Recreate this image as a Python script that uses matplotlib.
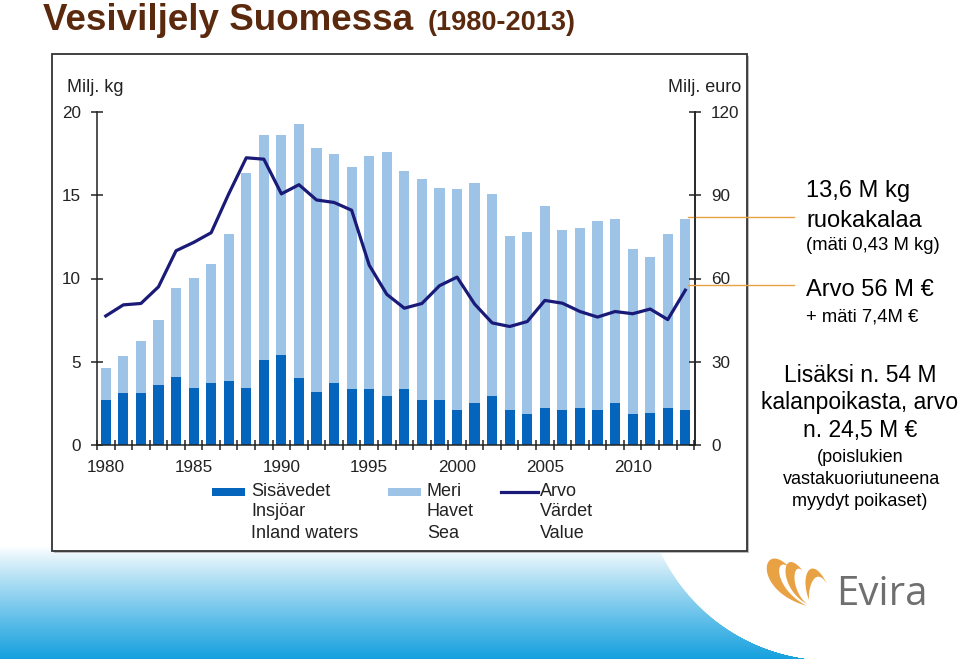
import numpy as np
import matplotlib
matplotlib.use("Agg")
import matplotlib.pyplot as plt
from matplotlib.patches import Rectangle, Polygon
from matplotlib.lines import Line2D

plt.rcParams['font.family'] = ['Liberation Sans', 'DejaVu Sans']

# data
years = list(range(1980, 2014))
sisavedet = [2.7, 3.1, 3.1, 3.6, 4.1, 3.45, 3.75, 3.85, 3.45, 5.1, 5.4, 4.0, 3.2, 3.75, 3.35, 3.35, 2.95,
             3.35, 2.7, 2.7, 2.1, 2.5, 2.95, 2.1, 1.85, 2.2, 2.1, 2.2, 2.1, 2.5, 1.85, 1.95, 2.2, 2.1]
meri = [1.9, 2.25, 3.15, 3.9, 5.35, 6.6, 7.1, 8.85, 12.9, 13.5, 13.2, 15.25, 14.65, 13.75, 13.35, 14.0, 14.65,
        13.1, 13.3, 12.75, 13.25, 13.25, 12.15, 10.45, 10.95, 12.15, 10.8, 10.85, 11.35, 11.1, 9.95, 9.35, 10.45, 11.5]
arvo = [46.5, 50.5, 51.0, 57.0, 70.0, 73.0, 76.5, 90.5, 103.5, 103.0, 90.5, 93.8, 88.3, 87.4, 84.6, 64.8, 54.3,
        49.3, 51.0, 57.4, 60.5, 50.8, 44.0, 42.7, 44.5, 52.1, 51.1, 48.1, 46.1, 48.1, 47.3, 49.0, 45.2, 55.8]
label_years = [1980, 1985, 1990, 1995, 2000, 2005, 2010]
kg_ticks = [0, 5, 10, 15, 20]
euro_ticks = [0, 30, 60, 90, 120]

legend_labels = [["Sisävedet", "Insjöar", "Inland waters"],
                 ["Meri", "Havet", "Sea"],
                 ["Arvo", "Värdet", "Value"]]

dark = '#0565BC'
light = '#9DC3E6'
navy = '#1A1A78'
orange = '#E9A243'
brown = '#5B2A0E'

W, H = 960, 659
fig = plt.figure(figsize=(W / 100, H / 100), dpi=100)


def px(x, y):
    return x / W, 1 - y / H


# background: blue gradient in the lower left corner, cut by a curve
bg = fig.add_axes([0, 0, 1, 1], zorder=-3)
yy, xx = np.mgrid[0:H, 0:W]
t = np.clip((yy - 546) / (H - 546), 0, 1) ** 0.9
cx, cy, r = 831, 471, 189
edge = np.where(yy > cy, cx - np.sqrt(np.clip(r ** 2 - (yy - cy) ** 2, 0, None)), cx - r)
img = np.ones((H, W, 4))
blue = np.array([20, 160, 222]) / 255
for c in range(3):
    img[..., c] = 1 - (1 - blue[c]) * t
img[..., 3] = np.clip(edge - xx + 0.5, 0, 1)
bg.imshow(img, extent=(0, W, H, 0), aspect='auto', interpolation='bilinear')
bg.set_xlim(0, W)
bg.set_ylim(H, 0)
bg.axis('off')


# Evira logo
def cubic(p0, p1, p2, p3, n=40):
    s = np.linspace(0, 1, n)[:, None]
    return ((1 - s) ** 3 * np.array(p0) + 3 * (1 - s) ** 2 * s * np.array(p1)
            + 3 * (1 - s) * s ** 2 * np.array(p2) + s ** 3 * np.array(p3))


arches = [((807, 606), (791, 569), (750, 590), (762, 536), (772, 588), (774, 552)),
          ((807, 604), (803, 571), (777, 588), (781, 543), (790, 590), (792, 560)),
          ((809, 600), (827, 584), (799, 574), (812, 553), (808, 585), (816, 566))]
for b, e, o1, o2, i1, i2 in arches:
    pts = np.vstack([cubic(b, o1, o2, e), cubic(b, i1, i2, e)[::-1]])
    bg.add_patch(Polygon(pts, closed=True, fc=orange, ec='none'))
bg.text(836, 605, "Evira", fontsize=29, color='#6F6F6F', family='Open Sans', ha='left', va='baseline')

# chart frame
fig.add_artist(Rectangle(px(54, 553), 695 / W, 497 / H, transform=fig.transFigure,
                         fc='#BBBBBB', ec='none', zorder=-2))
fig.add_artist(Rectangle(px(52, 551), 695 / W, 497 / H, transform=fig.transFigure,
                         fc='white', ec='#333333', lw=1.3, zorder=-1))

# title
fig.text(*px(43, 30), "Vesiviljely Suomessa", fontsize=26.5, fontweight='bold', color=brown,
         ha='left', va='baseline')
fig.text(*px(428, 30), "(1980-2013)", fontsize=19.5, fontweight='bold', color=brown,
         ha='left', va='baseline')

# main chart
ax = fig.add_axes([97 / W, 1 - 445 / H, 598 / W, 333 / H])
ax.patch.set_alpha(0)
ax.bar(years, sisavedet, width=0.58, color=dark, zorder=2)
ax.bar(years, meri, width=0.58, bottom=sisavedet, color=light, zorder=2)
ax.set_xlim(1979.5, 2013.55)
ax.set_ylim(0, 20)

ax2 = ax.twinx()
ax2.plot(years, arvo, color=navy, lw=2.3, zorder=3)
ax2.set_ylim(0, 120)

for a in (ax, ax2):
    a.spines['top'].set_visible(False)
    for s in a.spines.values():
        s.set_color('#222222')
        s.set_linewidth(1.1)

ax.set_yticks(kg_ticks)
ax2.set_yticks(euro_ticks)
ax.tick_params(axis='y', direction='inout', length=8.5, width=1.1, pad=7.4, labelsize=12.3,
               colors='#222222')
ax2.tick_params(axis='y', direction='inout', length=8.5, width=1.1, pad=7.4, labelsize=12.3,
                colors='#222222')
ax.set_xticks(label_years)
ax.set_xticks([y - 0.5 for y in years] + [years[-1] + 0.5], minor=True)
ax.tick_params(axis='x', which='major', length=0, pad=11, labelsize=12.3, colors='#222222')
ax.tick_params(axis='x', which='minor', direction='inout', length=7, width=1.1, color='#222222')
ax2.spines['left'].set_visible(False)
ax2.spines['bottom'].set_visible(False)

fig.text(*px(67, 88), "Milj. kg", fontsize=13, color='#222222', ha='left', va='center')
fig.text(*px(668, 87), "Milj. euro", fontsize=13, color='#222222', ha='left', va='center')

# orange leader lines
ax.plot([0.988, 1.166], [13.7, 13.7], transform=ax.get_yaxis_transform(), color=orange,
        lw=1, clip_on=False, zorder=4)
ax2.plot([0.988, 1.166], [57.5, 57.5], transform=ax2.get_yaxis_transform(), color=orange,
         lw=1, clip_on=False, zorder=4)

# legend, drawn by hand
fig.add_artist(Rectangle(px(212, 496), 33 / W, 8 / H, transform=fig.transFigure, fc=dark, ec='none'))
fig.add_artist(Rectangle(px(388, 496), 33 / W, 8 / H, transform=fig.transFigure, fc=light, ec='none'))
x0, y0 = px(501, 492)
x1, _ = px(538, 492)
fig.add_artist(Line2D([x0, x1], [y0, y0], transform=fig.transFigure, color=navy, lw=2.3))
for lx, lines in zip([251, 427, 540], legend_labels):
    for ly, lab in zip([491, 512, 533], lines):
        fig.text(*px(lx, ly), lab, fontsize=13, color='#222222', ha='left', va='center')

# right side notes
fig.text(*px(806, 191), "13,6 M kg", fontsize=17, ha='left', va='center')
fig.text(*px(806, 221), "ruokakalaa", fontsize=17, ha='left', va='center')
fig.text(*px(806, 246), "(mäti 0,43 M kg)", fontsize=13.3, ha='left', va='center')
fig.text(*px(806, 290), "Arvo 56 M €", fontsize=17, ha='left', va='center')
fig.text(*px(806, 317), "+ mäti 7,4M €", fontsize=13.3, ha='left', va='center')

fig.text(*px(860, 375), "Lisäksi n. 54 M", fontsize=16.5, ha='center', va='center')
fig.text(*px(860, 403), "kalanpoikasta, arvo", fontsize=16.5, ha='center', va='center')
fig.text(*px(860, 431), "n. 24,5 M €", fontsize=16.5, ha='center', va='center')
fig.text(*px(860, 457), "(poislukien", fontsize=13, ha='center', va='center')
fig.text(*px(862, 479), "vastakuoriutuneena", fontsize=13, ha='center', va='center')
fig.text(*px(860, 502), "myydyt poikaset)", fontsize=13, ha='center', va='center')

fig.savefig("out.png", dpi=100)
